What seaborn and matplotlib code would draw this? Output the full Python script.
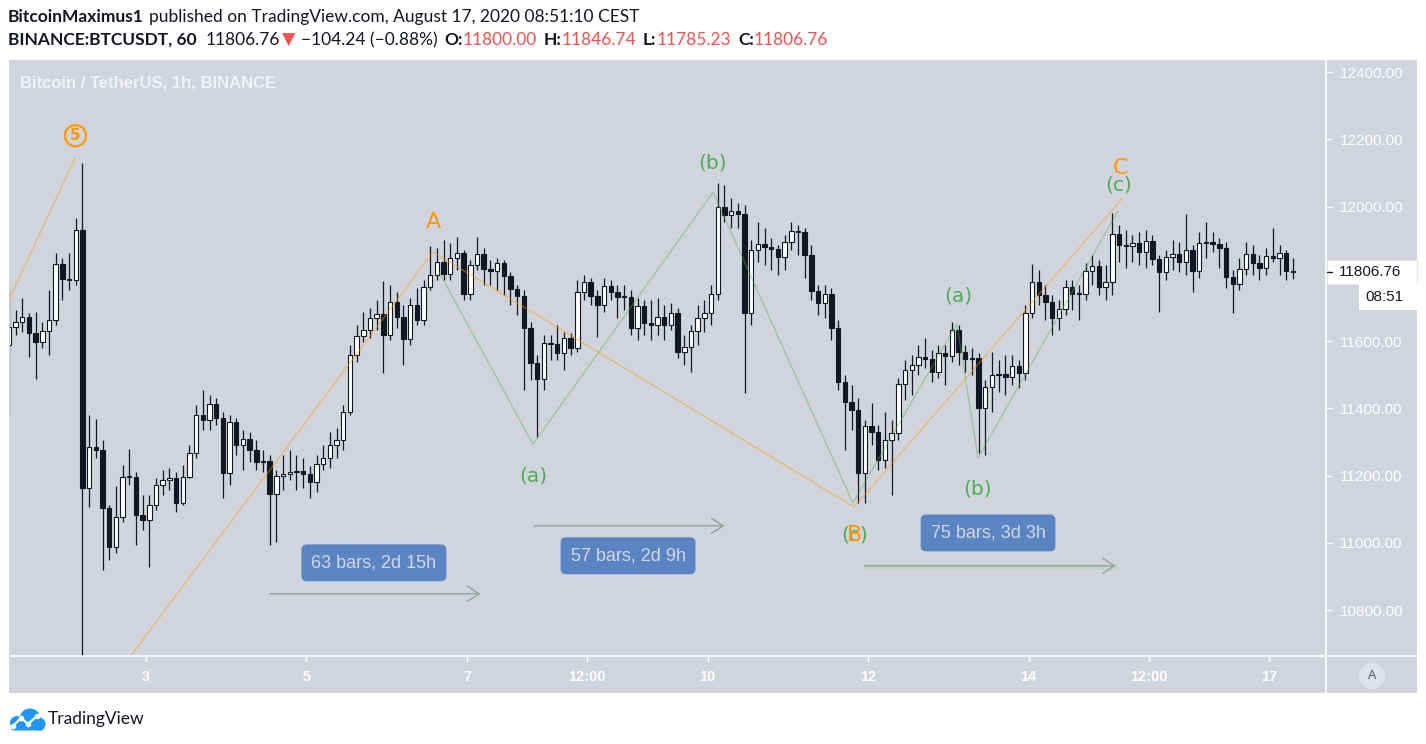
import numpy as np
import pandas as pd
import seaborn as sns
import matplotlib
matplotlib.use('Agg')
import matplotlib.pyplot as plt
import matplotlib.dates as mdates
from matplotlib.patches import Rectangle, Circle, FancyBboxPatch
from matplotlib.lines import Line2D

W, H = 1426, 744

# 2-hour candles (open = previous close)
bar_start = '2020-08-01 07:00'
first_open = 11589
close = [
    11642, 11657, 11672, 11624, 11598, 11630, 11663, 11829, 11785, 11782,
    11930, 11164, 11286, 11277, 11104, 10988, 11077, 11196, 11196, 11083,
    11069, 11113, 11173, 11187, 11193, 11119, 11196, 11268, 11381, 11366,
    11413, 11372, 11208, 11360, 11291, 11309, 11277, 11241, 11244, 11146,
    11199, 11205, 11211, 11214, 11205, 11181, 11235, 11253, 11291, 11306,
    11390, 11559, 11615, 11633, 11669, 11681, 11618, 11716, 11672, 11606,
    11707, 11663, 11761, 11797, 11835, 11800, 11847, 11862, 11740, 11826,
    11859, 11814, 11808, 11832, 11794, 11755, 11734, 11639, 11535, 11488,
    11595, 11592, 11565, 11609, 11580, 11746, 11776, 11734, 11707, 11764,
    11746, 11731, 11731, 11639, 11704, 11654, 11648, 11672, 11648, 11684,
    11568, 11583, 11630, 11669, 11684, 11740, 11999, 11975, 11987, 11978,
    11684, 11871, 11889, 11880, 11874, 11850, 11895, 11928, 11925, 11856,
    11749, 11713, 11740, 11639, 11479, 11419, 11396, 11208, 11348, 11330,
    11247, 11306, 11327, 11473, 11514, 11529, 11553, 11547, 11508, 11565,
    11556, 11633, 11568, 11547, 11550, 11401, 11464, 11500, 11503, 11494,
    11526, 11505, 11684, 11776, 11737, 11716, 11669, 11696, 11761, 11740,
    11740, 11808, 11823, 11761, 11776, 11919, 11886, 11883, 11892, 11865,
    11898, 11844, 11806, 11850, 11859, 11835, 11871, 11808, 11892, 11895,
    11889, 11877, 11791, 11770, 11815, 11859, 11832, 11818, 11853, 11847,
    11862, 11808, 11806.76]
high = [
    11752, 11693, 11728, 11685, 11687, 11657, 11752, 11862, 11847, 11862,
    11966, 12130, 11381, 11369, 11306, 11113, 11170, 11232, 11280, 11211,
    11143, 11143, 11193, 11217, 11223, 11211, 11232, 11291, 11410, 11455,
    11440, 11431, 11390, 11381, 11372, 11336, 11330, 11306, 11277, 11262,
    11217, 11262, 11277, 11262, 11253, 11229, 11262, 11291, 11330, 11342,
    11410, 11589, 11648, 11687, 11699, 11722, 11779, 11767, 11746, 11707,
    11728, 11758, 11782, 11883, 11877, 11901, 11892, 11910, 11871, 11841,
    11910, 11877, 11841, 11847, 11841, 11806, 11767, 11752, 11657, 11559,
    11618, 11618, 11648, 11627, 11624, 11782, 11797, 11788, 11752, 11788,
    11782, 11767, 11767, 11752, 11728, 11722, 11722, 11728, 11707, 11713,
    11700, 11618, 11648, 11707, 11722, 11767, 12070, 12064, 12026, 12011,
    12005, 11901, 11954, 11936, 11907, 11886, 11916, 11954, 11945, 11936,
    11886, 11767, 11767, 11758, 11663, 11500, 11470, 11431, 11366, 11416,
    11351, 11390, 11366, 11491, 11544, 11559, 11589, 11609, 11574, 11589,
    11589, 11657, 11648, 11589, 11580, 11565, 11485, 11568, 11544, 11559,
    11559, 11544, 11707, 11829, 11812, 11767, 11737, 11722, 11782, 11782,
    11767, 11832, 11856, 11841, 11826, 11981, 11945, 11930, 11916, 11925,
    11930, 11916, 11856, 11871, 11901, 11895, 11978, 11886, 11925, 11954,
    11925, 11907, 11895, 11812, 11847, 11895, 11886, 11856, 11877, 11936,
    11886, 11871, 11847]
low = [
    11381, 11618, 11627, 11553, 11488, 11580, 11559, 11648, 11722, 11752,
    11767, 10650, 11107, 11253, 10920, 10950, 10970, 11063, 11173, 10994,
    11039, 10929, 11098, 11143, 11158, 11092, 11113, 11193, 11253, 11336,
    11336, 11351, 11134, 11173, 11262, 11217, 11241, 11217, 11211, 10994,
    11003, 11158, 11187, 11158, 11164, 11134, 11152, 11217, 11223, 11253,
    11277, 11381, 11538, 11598, 11609, 11633, 11505, 11603, 11639, 11529,
    11589, 11648, 11648, 11752, 11782, 11782, 11782, 11812, 11722, 11722,
    11812, 11767, 11767, 11752, 11737, 11707, 11678, 11455, 11485, 11315,
    11455, 11544, 11544, 11514, 11559, 11568, 11722, 11707, 11612, 11687,
    11722, 11669, 11693, 11618, 11603, 11618, 11603, 11618, 11603, 11633,
    11550, 11529, 11508, 11589, 11627, 11648, 11722, 11954, 11936, 11936,
    11446, 11648, 11835, 11826, 11812, 11797, 11812, 11871, 11856, 11788,
    11722, 11678, 11669, 11603, 11455, 11277, 11336, 11119, 11119, 11291,
    11217, 11223, 11143, 11306, 11425, 11440, 11500, 11520, 11479, 11491,
    11470, 11538, 11529, 11508, 11500, 11268, 11262, 11390, 11449, 11440,
    11470, 11461, 11485, 11670, 11707, 11663, 11618, 11633, 11678, 11693,
    11663, 11722, 11767, 11737, 11722, 11737, 11835, 11818, 11835, 11826,
    11818, 11826, 11687, 11782, 11812, 11806, 11797, 11746, 11788, 11847,
    11865, 11818, 11758, 11684, 11752, 11797, 11797, 11782, 11797, 11835,
    11797, 11782, 11785]

# Elliott wave drawings (pivot time, price)
wave5_time = ['2020-08-01 07:00', '2020-08-02 02:45']
wave5_price = [11722, 12144]
abc_time = ['2020-08-02 09:40', '2020-08-06 13:50', '2020-08-11 19:45', '2020-08-15 03:50']
abc_price = [10534, 11865, 11107, 12023]
sub_time = ['2020-08-06 15:35', '2020-08-07 19:45', '2020-08-10 01:35', '2020-08-11 19:25',
            '2020-08-13 02:30', '2020-08-13 08:50', '2020-08-15 02:40']
sub_price = [11806, 11294, 12043, 11119, 11651, 11253, 11987]

label_text = ['A', '(a)', '(b)', '(c)', 'B', '(a)', '(b)', '(c)', 'C']
label_time = ['2020-08-06 13:50', '2020-08-07 19:45', '2020-08-10 01:35', '2020-08-11 20:00',
              '2020-08-11 20:00', '2020-08-13 02:50', '2020-08-13 08:50', '2020-08-15 03:00',
              '2020-08-15 03:35']
label_price = [11954, 11199, 12130, 11024, 11024, 11734, 11161, 12064, 12116]
label_kind = ['big', 'small', 'small', 'small', 'big', 'small', 'small', 'small', 'big']

five_time = '2020-08-02 02:55'
five_price = 12211

ruler_text = ['63 bars, 2d 15h', '57 bars, 2d 9h', '75 bars, 3d 3h']
ruler_start = ['2020-08-04 13:00', '2020-08-07 20:00', '2020-08-11 23:00']
ruler_end = ['2020-08-07 04:00', '2020-08-10 05:00', '2020-08-15 02:00']
ruler_price = [10849, 11051, 10932]
box_time = ['2020-08-05 20:10', '2020-08-09 00:10', '2020-08-13 11:50']
box_price = [10941, 10962, 11030]

price_ticks = [10800, 11000, 11200, 11400, 11600, 11800, 12000, 12200, 12400]
time_ticks = ['2020-08-03', '2020-08-05', '2020-08-07', '2020-08-08 12:00', '2020-08-10',
              '2020-08-12', '2020-08-14', '2020-08-15 12:00', '2020-08-17']
time_labels = ['3', '5', '7', '12:00', '10', '12', '14', '12:00', '17']
last_price = 11806.76

DARK = '#131722'
PANEL = '#D1D4DC'
ORANGE = '#FF9800'
GREEN = '#4CAF50'
RED = '#EF5350'


def tnum(s):
    return mdates.date2num(pd.Timestamp(s))


sns.set_theme(style='white', rc={'axes.facecolor': PANEL})
plt.rcParams['font.family'] = ['Lato', 'DejaVu Sans']

df = pd.DataFrame({'time': pd.date_range(bar_start, periods=len(close), freq='2h'),
                   'close': close, 'high': high, 'low': low})
df['open'] = df['close'].shift(1)
df.loc[0, 'open'] = first_open
df['x'] = mdates.date2num(df['time'])
up = df['close'] >= df['open']
body_h = (df['close'] - df['open']).abs().clip(lower=3)
body_b = df[['open', 'close']].min(axis=1)

fig = plt.figure(figsize=(W / 100, H / 100), dpi=100)
fig.patch.set_facecolor('white')
fig.add_artist(Rectangle((9 / W, 1 - 693 / H), 1408 / W, 633 / H, transform=fig.transFigure,
                         facecolor=PANEL, edgecolor='none', zorder=-1))

ax = fig.add_axes([10 / W, 1 - 655 / H, 1315 / W, 595 / H])
ax.set_facecolor(PANEL)

# candles
ax.vlines(df['x'], df['low'], df['high'], color=DARK, lw=0.9, zorder=2)
ax.bar(df['x'][up], body_h[up], bottom=body_b[up], width=0.055, color='white',
       edgecolor=DARK, linewidth=0.8, zorder=3)
ax.bar(df['x'][~up], body_h[~up], bottom=body_b[~up], width=0.055, color=DARK,
       edgecolor=DARK, linewidth=0.8, zorder=3)

# wave lines
sns.lineplot(x=[tnum(t) for t in wave5_time], y=wave5_price, ax=ax, color=ORANGE,
             alpha=0.45, linewidth=1, sort=False, estimator=None, zorder=4)
sns.lineplot(x=[tnum(t) for t in abc_time], y=abc_price, ax=ax, color=ORANGE,
             alpha=0.45, linewidth=1, sort=False, estimator=None, zorder=4)
sns.lineplot(x=[tnum(t) for t in sub_time], y=sub_price, ax=ax, color=GREEN,
             alpha=0.4, linewidth=1, sort=False, estimator=None, zorder=4)

for txt, t, p, kind in zip(label_text, label_time, label_price, label_kind):
    col = GREEN if txt.startswith('(') else ORANGE
    ax.text(tnum(t), p, txt, color=col, fontsize=16 if kind == 'big' else 14.5,
            ha='center', va='center', family='DejaVu Sans', zorder=6)

ax.text(tnum(five_time), five_price, '5', color=ORANGE, fontsize=11, fontweight='bold',
        ha='center', va='center', family='DejaVu Sans', zorder=6,
        bbox=dict(boxstyle='circle,pad=0.2', fc='none', ec=ORANGE, lw=1.6))

# date range rulers
for i, (s, e, p) in enumerate(zip(ruler_start, ruler_end, ruler_price)):
    if i == 2:
        ax.plot([tnum(s), tnum(e)], [p - 4, p - 4], color='#BCD5C0', lw=3.5, alpha=0.8, zorder=4)
    ax.annotate('', xy=(tnum(e), p), xytext=(tnum(s), p), zorder=5,
                arrowprops=dict(arrowstyle='->,head_length=0.7,head_width=0.45',
                                color='#8FA397', lw=1, shrinkA=0, shrinkB=0))
for txt, t, p in zip(ruler_text, box_time, box_price):
    ax.text(tnum(t), p, txt, ha='center', va='center', color='#D3D7E1', fontsize=13,
            family='Liberation Sans', zorder=6,
            bbox=dict(boxstyle='round,pad=0.55,rounding_size=0.3', fc='#5B84C3', ec='none'))

ax.set_xlim(tnum('2020-08-01 07:20'), tnum('2020-08-17 16:36'))
ax.set_ylim(10667, 12436)
for sp in ax.spines.values():
    sp.set_visible(False)
ax.grid(False)

ax.set_xticks([tnum(t) for t in time_ticks])
ax.set_xticklabels(time_labels)
ax.set_yticks(price_ticks)
# the 11800 label sits under the last-price tag
ax.set_yticklabels(['' if v == 11800 else f'{v:.2f}' for v in price_ticks])
ax.tick_params(axis='x', bottom=True, length=4, width=1, color='white', labelcolor='white',
               pad=7, labelsize=10.5)
ax.tick_params(axis='y', left=False, right=True, labelleft=False, labelright=True, length=5,
               width=1, color='white', labelcolor='white', pad=6, labelsize=11)
for lbl in ax.get_xticklabels():
    lbl.set_fontweight('bold')
    lbl.set_family('Liberation Sans')
for lbl in ax.get_yticklabels():
    lbl.set_family('Liberation Sans')

ax.text(0.0076, 0.961, 'Bitcoin / TetherUS, 1h, BINANCE', transform=ax.transAxes,
        color='#F2F3F7', fontsize=12, fontweight='bold', family='Liberation Sans',
        ha='left', va='center')

# panel separators
fig.add_artist(Line2D([1326 / W, 1326 / W], [1 - 60 / H, 1 - 693 / H], color='white', lw=1.2))
fig.add_artist(Line2D([9 / W, 1417 / W], [1 - 655.5 / H, 1 - 655.5 / H], color='white', lw=1.2))

# last price tags
yd = ax.transData.transform((ax.get_xlim()[0], last_price))[1]
fig.add_artist(Rectangle((1327 / W, (yd - 12) / H), 90 / W, 24 / H, transform=fig.transFigure,
                         facecolor='white', edgecolor='#E6E8EE', lw=0.8, zorder=5))
fig.add_artist(Line2D([1327 / W, 1332 / W], [yd / H, yd / H], color=DARK, lw=1, zorder=6))
fig.text(1339 / W, yd / H, f'{last_price:.2f}', color=DARK, fontsize=11,
         family='Liberation Sans', va='center', ha='left', zorder=6)
fig.add_artist(Rectangle((1359 / W, (yd - 38) / H), 58 / W, 26 / H, transform=fig.transFigure,
                         facecolor='white', edgecolor='none', zorder=5))
fig.text(1365 / W, (yd - 25) / H, '08:51', color=DARK, fontsize=11,
         family='Liberation Sans', va='center', ha='left', zorder=6)

# auto-scale button
fig.add_artist(Circle((13.72, (H - 676) / 100), 0.13, transform=fig.dpi_scale_trans,
                      facecolor='#DEE1E7', edgecolor='none', zorder=5))
fig.text(1372 / W, 1 - 676 / H, 'A', color='#50535E', fontsize=9, ha='center', va='center',
         family='Liberation Sans', zorder=6)

# header
renderer = fig.canvas.get_renderer()


def write_row(pieces, x0, y0, size):
    x = x0
    for s, weight, color, gap in pieces:
        t = fig.text(x / W, 1 - y0 / H, s, fontsize=size, fontweight=weight, color=color,
                     ha='left', va='center', family=['Lato', 'DejaVu Sans'])
        x += t.get_window_extent(renderer).width + gap


write_row([('BitcoinMaximus1', 'bold', DARK, 5),
           ('published on TradingView.com, August 17, 2020 08:51:10 CEST', 'normal', DARK, 0)],
          8, 17, 12.5)
write_row([('BINANCE:BTCUSDT, 60', 'bold', DARK, 9),
           ('11806.76', 'normal', DARK, 2),
           ('\u25BC', 'normal', RED, 6),
           ('\u2212104.24 (\u22120.88%)', 'normal', DARK, 6),
           ('O:', 'bold', DARK, 0), ('11800.00', 'normal', RED, 7),
           ('H:', 'bold', DARK, 0), ('11846.74', 'normal', RED, 7),
           ('L:', 'bold', DARK, 0), ('11785.23', 'normal', RED, 7),
           ('C:', 'bold', DARK, 0), ('11806.76', 'normal', RED, 0)],
          8, 40, 12.5)

# TradingView logo
lax = fig.add_axes([6 / W, 1 - 733 / H, 40 / W, 28 / H])
lax.set_xlim(0, 40)
lax.set_ylim(0, 28)
lax.axis('off')
for cx, cy, r in [(11, 10, 7), (24, 14, 10.5), (33, 9, 6.5)]:
    lax.add_patch(Circle((cx, cy), r, facecolor='#2196F3', edgecolor='none'))
lax.add_patch(FancyBboxPatch((5, 2.5), 33, 8, boxstyle='round,pad=0,rounding_size=3',
                             facecolor='#2196F3', edgecolor='none'))
lax.plot([7, 15, 22, 31], [7, 15, 9, 17], color='white', lw=1.6, marker='o', ms=3,
         markerfacecolor='white', markeredgecolor='white')
fig.text(48 / W, 1 - 719 / H, 'TradingView', color=DARK, fontsize=12.5, ha='left',
         va='center', family=['Lato', 'DejaVu Sans'])

plt.savefig('out.png', dpi=100)
plt.close()
